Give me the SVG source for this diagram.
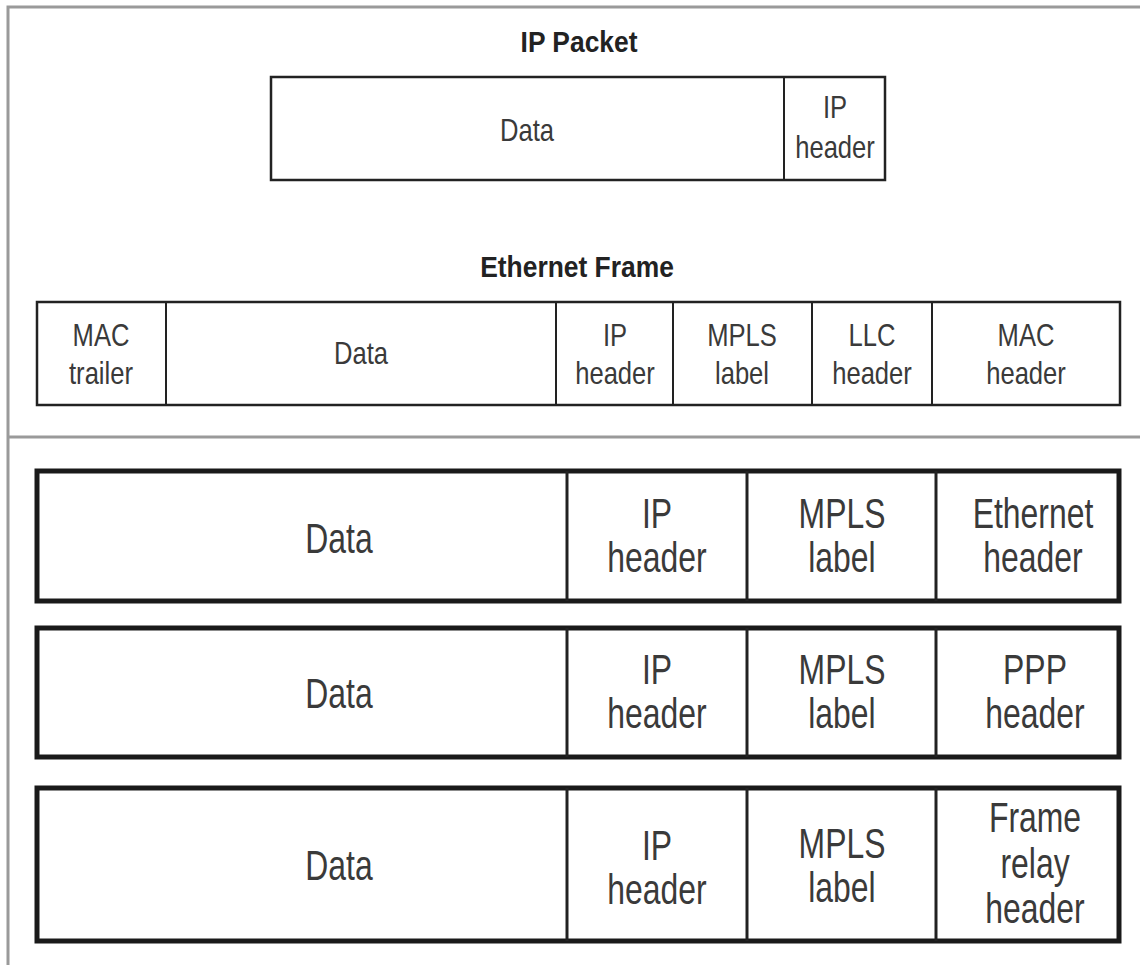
<svg xmlns="http://www.w3.org/2000/svg" width="1140" height="965" viewBox="0 0 1140 965">
<style>
.frame{fill:none;stroke:#9a9a9a;stroke-width:3}
.tb{fill:#fff;stroke:#222;stroke-width:2.5}
.td{stroke:#222;stroke-width:2}
.bb{fill:#fff;stroke:#1a1a1a;stroke-width:5}
.bd{stroke:#222;stroke-width:3}
.title{font-family:"Liberation Sans",Arial,sans-serif;font-weight:bold;font-size:30px;fill:#222;text-anchor:middle}
.ts{font-family:"Liberation Sans",Arial,sans-serif;font-size:32px;fill:#3a3a3a;text-anchor:middle}
.bs{font-family:"Liberation Sans",Arial,sans-serif;font-size:42px;fill:#3a3a3a;text-anchor:middle}
</style>
<rect width="1140" height="965" fill="#fff"/>
<g id="frame">
<polyline class="frame" points="1140,7 8,7 8,965"/>
<line class="frame" x1="8" y1="437" x2="1140" y2="437"/>
</g>
<g id="ip-packet">
<text class="title" transform="translate(579 52) scale(0.88 1)">IP Packet</text>
<rect class="tb" x="271" y="77" width="614" height="103"/>
<line class="td" x1="784" y1="77" x2="784" y2="180"/>
<text class="ts" transform="translate(527 141) scale(0.8 1)">Data</text>
<text class="ts" transform="translate(835 118) scale(0.8 1)">IP</text>
<text class="ts" transform="translate(835 158) scale(0.8 1)">header</text>
</g>
<g id="ethernet-frame">
<text class="title" transform="translate(577 277) scale(0.88 1)">Ethernet Frame</text>
<rect class="tb" x="37" y="302" width="1083" height="103"/>
<line class="td" x1="166" y1="302" x2="166" y2="405"/>
<line class="td" x1="556" y1="302" x2="556" y2="405"/>
<line class="td" x1="673" y1="302" x2="673" y2="405"/>
<line class="td" x1="812" y1="302" x2="812" y2="405"/>
<line class="td" x1="932" y1="302" x2="932" y2="405"/>
<text class="ts" transform="translate(101 346) scale(0.8 1)">MAC</text>
<text class="ts" transform="translate(101 384) scale(0.8 1)">trailer</text>
<text class="ts" transform="translate(361 364) scale(0.8 1)">Data</text>
<text class="ts" transform="translate(615 346) scale(0.8 1)">IP</text>
<text class="ts" transform="translate(615 384) scale(0.8 1)">header</text>
<text class="ts" transform="translate(742 346) scale(0.8 1)">MPLS</text>
<text class="ts" transform="translate(742 384) scale(0.8 1)">label</text>
<text class="ts" transform="translate(872 346) scale(0.8 1)">LLC</text>
<text class="ts" transform="translate(872 384) scale(0.8 1)">header</text>
<text class="ts" transform="translate(1026 346) scale(0.8 1)">MAC</text>
<text class="ts" transform="translate(1026 384) scale(0.8 1)">header</text>
</g>
<g id="mpls-ethernet">
<rect class="bb" x="37" y="471" width="1082" height="130"/>
<line class="bd" x1="567" y1="471" x2="567" y2="601"/>
<line class="bd" x1="747" y1="471" x2="747" y2="601"/>
<line class="bd" x1="936" y1="471" x2="936" y2="601"/>
<text class="bs" transform="translate(339 553) scale(0.76 1)">Data</text>
<text class="bs" transform="translate(657 528) scale(0.76 1)">IP</text>
<text class="bs" transform="translate(657 572) scale(0.76 1)">header</text>
<text class="bs" transform="translate(842 528) scale(0.76 1)">MPLS</text>
<text class="bs" transform="translate(842 572) scale(0.76 1)">label</text>
<text class="bs" transform="translate(1033 528) scale(0.76 1)">Ethernet</text>
<text class="bs" transform="translate(1033 572) scale(0.76 1)">header</text>
</g>
<g id="mpls-ppp">
<rect class="bb" x="37" y="628" width="1082" height="129"/>
<line class="bd" x1="567" y1="628" x2="567" y2="757"/>
<line class="bd" x1="747" y1="628" x2="747" y2="757"/>
<line class="bd" x1="936" y1="628" x2="936" y2="757"/>
<text class="bs" transform="translate(339 708) scale(0.76 1)">Data</text>
<text class="bs" transform="translate(657 684) scale(0.76 1)">IP</text>
<text class="bs" transform="translate(657 728) scale(0.76 1)">header</text>
<text class="bs" transform="translate(842 684) scale(0.76 1)">MPLS</text>
<text class="bs" transform="translate(842 728) scale(0.76 1)">label</text>
<text class="bs" transform="translate(1035 684) scale(0.76 1)">PPP</text>
<text class="bs" transform="translate(1035 728) scale(0.76 1)">header</text>
</g>
<g id="mpls-frame-relay">
<rect class="bb" x="37" y="788" width="1082" height="153"/>
<line class="bd" x1="567" y1="788" x2="567" y2="941"/>
<line class="bd" x1="747" y1="788" x2="747" y2="941"/>
<line class="bd" x1="936" y1="788" x2="936" y2="941"/>
<text class="bs" transform="translate(339 880) scale(0.76 1)">Data</text>
<text class="bs" transform="translate(657 860) scale(0.76 1)">IP</text>
<text class="bs" transform="translate(657 904) scale(0.76 1)">header</text>
<text class="bs" transform="translate(842 858) scale(0.76 1)">MPLS</text>
<text class="bs" transform="translate(842 902) scale(0.76 1)">label</text>
<text class="bs" transform="translate(1035 832) scale(0.76 1)">Frame</text>
<text class="bs" transform="translate(1035 878) scale(0.76 1)">relay</text>
<text class="bs" transform="translate(1035 923) scale(0.76 1)">header</text>
</g>
<g id="connectors"/>
</svg>
